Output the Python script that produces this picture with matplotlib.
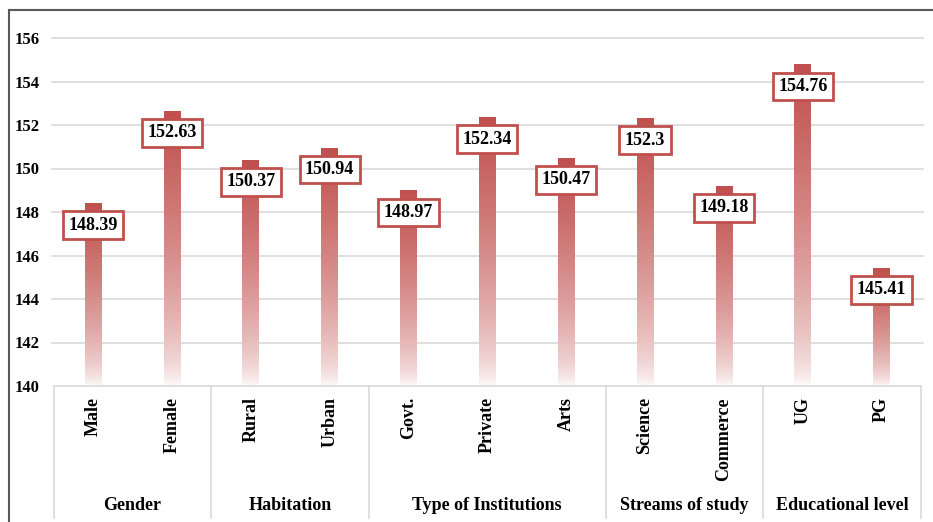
import matplotlib
matplotlib.use('Agg')
import matplotlib.pyplot as plt
import numpy as np
from matplotlib.lines import Line2D
from matplotlib.colors import LinearSegmentedColormap
from matplotlib.transforms import blended_transform_factory

categories = ['Male', 'Female', 'Rural', 'Urban', 'Govt.', 'Private', 'Arts',
              'Science', 'Commerce', 'UG', 'PG']
values = [148.39, 152.63, 150.37, 150.94, 148.97, 152.34, 150.47, 152.3, 149.18, 154.76, 145.41]
value_labels = ['148.39', '152.63', '150.37', '150.94', '148.97', '152.34', '150.47',
                '152.3', '149.18', '154.76', '145.41']
groups = ['Gender', 'Habitation', 'Type of Institutions', 'Streams of study', 'Educational level']
group_sizes = [2, 2, 3, 2, 2]
yticks = [140, 142, 144, 146, 148, 150, 152, 154, 156]

RED = '#C0504D'
FONT = 'Liberation Serif'
W, H = 933, 522

fig = plt.figure(figsize=(W / 100, H / 100), dpi=100)
ax = fig.add_axes([53.6 / W, (H - 386) / H, (921 - 53.6) / W, (386 - 38) / H])
ax.set_xlim(-0.5, len(categories) - 0.5)
ax.set_ylim(yticks[0], yticks[-1])

# gridlines
for yt in yticks[1:]:
    ax.axhline(yt, color='#D9D9D9', lw=1.2, zorder=0, xmin=-0.002, xmax=1.002, clip_on=False)

for s in ['left', 'top', 'right']:
    ax.spines[s].set_visible(False)
ax.spines['bottom'].set_color('#D9D9D9')
ax.spines['bottom'].set_linewidth(1.2)

ax.set_yticks(yticks)
ax.set_yticklabels([str(t) for t in yticks], fontfamily=FONT, fontweight='bold', fontsize=12)
ax.tick_params(axis='y', length=0, pad=10)
ax.set_xticks([])

cmap = LinearSegmentedColormap.from_list('grad', ['#FFFFFF', RED])
grad = (np.linspace(0, 1, 256) ** 0.6).reshape(-1, 1)
bw = 0.21
for i, v in enumerate(values):
    ax.imshow(grad, cmap=cmap, origin='lower', aspect='auto',
              extent=[i - bw / 2, i + bw / 2, yticks[0], v], zorder=2, vmin=0, vmax=1)
    ax.annotate(value_labels[i], xy=(i, v), xytext=(0, -15.5), textcoords='offset points',
                ha='center', va='center', fontfamily=FONT, fontweight='bold', fontsize=13,
                bbox=dict(boxstyle='square,pad=0.3', fc='white', ec=RED, lw=2), zorder=5)

ax.set_xlim(-0.5, len(categories) - 0.5)
ax.set_ylim(yticks[0], yticks[-1])

# category labels
for i, c in enumerate(categories):
    ax.annotate(c, xy=(i, yticks[0]), xytext=(0, -8), textcoords='offset points',
                rotation=90, ha='center', va='top', fontfamily=FONT, fontweight='bold',
                fontsize=13, annotation_clip=False)

# group labels and separators
tr = blended_transform_factory(ax.transData, ax.transAxes)
ybot = -(518 - 386) / (386 - 38)
start = 0
bounds = [-0.5]
for g, n in zip(groups, group_sizes):
    center = start + (n - 1) / 2
    ax.annotate(g, xy=(center, yticks[0]), xytext=(0, -86.4), textcoords='offset points',
                ha='center', va='center', fontfamily=FONT, fontweight='bold', fontsize=13,
                annotation_clip=False)
    start += n
    bounds.append(start - 0.5)
for b in bounds:
    ax.add_line(Line2D([b, b], [0, ybot], transform=tr, color='#D9D9D9', lw=1.2, clip_on=False))

# outer frame (left and top)
fig.add_artist(Line2D([8.5 / W, 8.5 / W], [0, 1 - 9.5 / H], transform=fig.transFigure,
                      color='#595959', lw=1.5))
fig.add_artist(Line2D([8.5 / W, 1], [1 - 9.5 / H, 1 - 9.5 / H], transform=fig.transFigure,
                      color='#595959', lw=1.5))

fig.savefig('out.png', dpi=100, facecolor='white')
